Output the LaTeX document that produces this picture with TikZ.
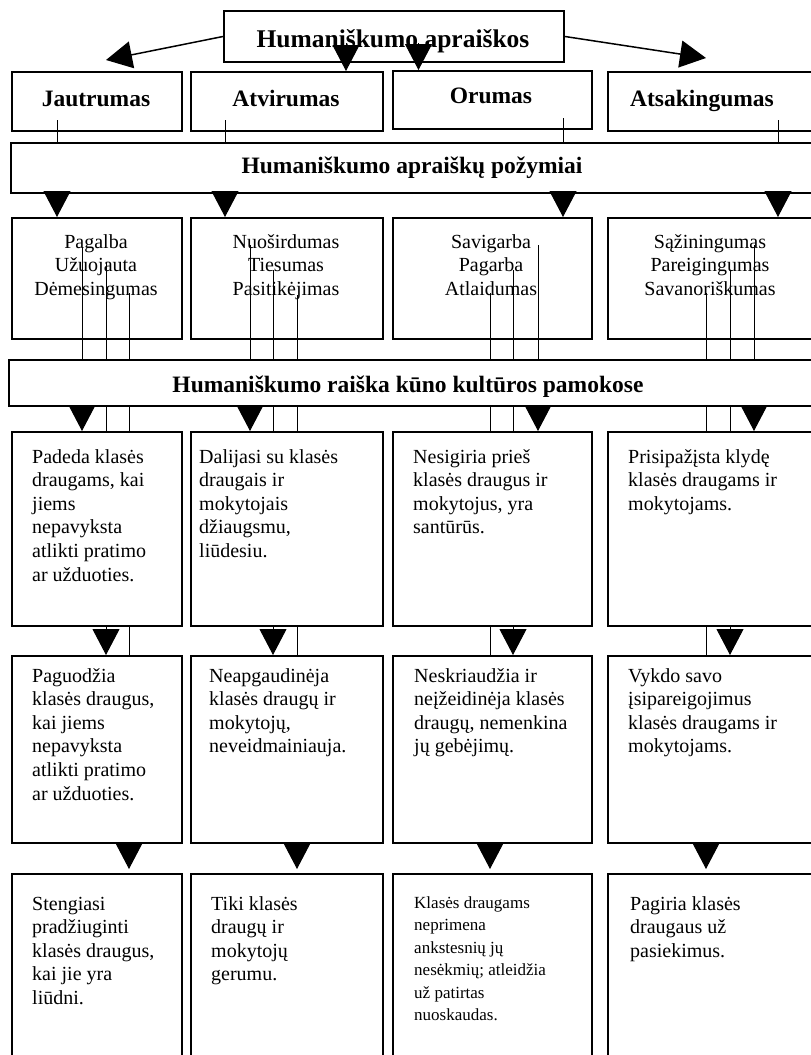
\documentclass[tikz,border=0pt]{standalone}
\usepackage{fontspec}
\setmainfont{Liberation Serif}
\usetikzlibrary{arrows.meta}

% multi-line text blocks whose baseline is the first line's baseline
\newcommand\leftlines[1]{\begin{minipage}[t]{185pt}\raggedright #1\end{minipage}}
\newcommand\midlines[1]{\begin{minipage}[t]{180pt}\centering #1\end{minipage}}

\tikzset{
  frame/.style={draw, line width=2pt, fill=white, inner sep=0pt, anchor=north west},
  head/.style={font=\fontsize{23.5}{28}\selectfont\bfseries, inner sep=0pt, anchor=base},
  body/.style={font=\fontsize{20}{23.6}\selectfont, inner sep=0pt, anchor=base west},
  bodymid/.style={font=\fontsize{20}{23.6}\selectfont, inner sep=0pt, anchor=base},
  small/.style={font=\fontsize{17}{22.5}\selectfont, inner sep=0pt, anchor=base west},
  conn/.style={line width=1pt},
  tip/.style={line width=1pt, -{Triangle[length=26pt,width=27pt]}},
  slant/.style={line width=1.5pt, -{Triangle[length=26pt,width=27pt]}}
}

\begin{document}
\begin{tikzpicture}[x=1pt,y=-1pt]
\useasboundingbox[fill=white] (0,0) rectangle (811,1055);

% ---- title ----
\node[frame, minimum width=340pt, minimum height=51pt] (title) at (223,10) {};
\node[head, font=\fontsize{25.5}{30}\selectfont\bfseries] (titletxt) at (393,47) {Humaniškumo apraiškos};

% ---- the four manifestations ----
\node[frame, minimum width=170pt, minimum height=59pt] (jaut) at (11,71) {};
\node[frame, minimum width=192pt, minimum height=59pt] (atv)  at (190,71) {};
\node[frame, minimum width=199pt, minimum height=58pt] (orum) at (392,70) {};
\node[frame, minimum width=230pt, minimum height=59pt] (ats)  at (607,71) {};
\node[head] (jauttxt) at (96,106) {Jautrumas};
\node[head] (atvtxt)  at (286,106) {Atvirumas};
\node[head] (orumtxt) at (491,103) {Orumas};
\node[head] (atstxt)  at (702,106) {Atsakingumas};

% ---- band: features ----
\node[frame, minimum width=830pt, minimum height=50pt] (band1) at (10,142) {};
\node[head] (band1txt) at (412,173) {Humaniškumo apraiškų požymiai};

% ---- features boxes ----
\node[frame, minimum width=170pt, minimum height=121pt] (r3a) at (11,217) {};
\node[frame, minimum width=192pt, minimum height=121pt] (r3b) at (190,217) {};
\node[frame, minimum width=199pt, minimum height=121pt] (r3c) at (392,217) {};
\node[frame, minimum width=230pt, minimum height=121pt] (r3d) at (607,217) {};
\node[bodymid] (r3atxt) at (96,248)  {\midlines{Pagalba\\Užuojauta\\Dėmesingumas}};
\node[bodymid] (r3btxt) at (286,248) {\midlines{Nuoširdumas\\Tiesumas\\Pasitikėjimas}};
\node[bodymid] (r3ctxt) at (491,248) {\midlines{Savigarba\\Pagarba\\Atlaidumas}};
\node[bodymid] (r3dtxt) at (710,248) {\midlines{Sąžiningumas\\Pareigingumas\\Savanoriškumas}};

% ---- band: expression in lessons ----
\node[frame, minimum width=832pt, minimum height=46pt] (band2) at (8,359) {};
\node[head] (band2txt) at (408,392) {Humaniškumo raiška kūno kultūros pamokose};

% ---- row 4 ----
\node[frame, minimum width=170pt, minimum height=194pt] (r4a) at (11,431) {};
\node[frame, minimum width=192pt, minimum height=194pt] (r4b) at (190,431) {};
\node[frame, minimum width=199pt, minimum height=194pt] (r4c) at (392,431) {};
\node[frame, minimum width=230pt, minimum height=194pt] (r4d) at (607,431) {};
\node[body] (r4atxt) at (32,463)  {\leftlines{Padeda klasės\\draugams, kai\\jiems\\nepavyksta\\atlikti pratimo\\ar užduoties.}};
\node[body] (r4btxt) at (199,463) {\leftlines{Dalijasi su klasės\\draugais ir\\mokytojais\\džiaugsmu,\\liūdesiu.}};
\node[body] (r4ctxt) at (413,463) {\leftlines{Nesigiria prieš\\klasės draugus ir\\mokytojus, yra\\santūrūs.}};
\node[body] (r4dtxt) at (628,463) {\leftlines{Prisipažįsta klydę\\klasės draugams ir\\mokytojams.}};

% ---- row 5 ----
\node[frame, minimum width=170pt, minimum height=187pt] (r5a) at (11,655) {};
\node[frame, minimum width=192pt, minimum height=187pt] (r5b) at (190,655) {};
\node[frame, minimum width=199pt, minimum height=187pt] (r5c) at (392,655) {};
\node[frame, minimum width=230pt, minimum height=187pt] (r5d) at (607,655) {};
\node[body] (r5atxt) at (32,682)  {\leftlines{Paguodžia\\klasės draugus,\\kai jiems\\nepavyksta\\atlikti pratimo\\ar užduoties.}};
\node[body] (r5btxt) at (209,682) {\leftlines{Neapgaudinėja\\klasės draugų ir\\mokytojų,\\neveidmainiauja.}};
\node[body] (r5ctxt) at (414,682) {\leftlines{Neskriaudžia ir\\neįžeidinėja klasės\\draugų, nemenkina\\jų gebėjimų.}};
\node[body] (r5dtxt) at (628,682) {\leftlines{Vykdo savo\\įsipareigojimus\\klasės draugams ir\\mokytojams.}};

% ---- row 6 (runs past the lower edge) ----
\node[frame, minimum width=170pt, minimum height=220pt] (r6a) at (11,873) {};
\node[frame, minimum width=192pt, minimum height=220pt] (r6b) at (190,873) {};
\node[frame, minimum width=199pt, minimum height=220pt] (r6c) at (392,873) {};
\node[frame, minimum width=230pt, minimum height=220pt] (r6d) at (607,873) {};
\node[body]  (r6atxt) at (32,910)  {\leftlines{Stengiasi\\pradžiuginti\\klasės draugus,\\kai jie yra\\liūdni.}};
\node[body]  (r6btxt) at (211,910) {\leftlines{Tiki klasės\\draugų ir\\mokytojų\\gerumu.}};
\node[small] (r6ctxt) at (414,908) {\leftlines{Klasės draugams\\neprimena\\ankstesnių jų\\nesėkmių; atleidžia\\už patirtas\\nuoskaudas.}};
\node[body]  (r6dtxt) at (630,910) {\leftlines{Pagiria klasės\\draugaus už\\pasiekimus.}};

% ---- connectors from the title ----
\coordinate (e1) at (106,60);
\coordinate (e2) at (706,58);
\coordinate (v1) at (346,43);
\coordinate (v2) at (418.5,43);
\draw[slant] (title.west) -- (e1);
\draw[slant] (title.east) -- (e2);
\draw[tip] (v1) -- (v1 |- atv.north);
\draw[tip] (v2) -- (v2 |- orum.north);

% ---- manifestations -> features ----
\coordinate (t1) at (57,120);
\coordinate (t2) at (225,120);
\coordinate (t3) at (563,118);
\coordinate (t4) at (778,120);
\foreach \t in {t1,t2,t3,t4} \draw[conn] (\t) -- (\t |- band1.north);
\draw[tip] (t1 |- band1.south) -- (t1 |- r3a.north);
\draw[tip] (t2 |- band1.south) -- (t2 |- r3b.north);
\draw[tip] (t3 |- band1.south) -- (t3 |- r3c.north);
\draw[tip] (t4 |- band1.south) -- (t4 |- r3d.north);

% ---- feature threads ----
\coordinate (s11) at (82,247);  \coordinate (s12) at (106,262); \coordinate (s13) at (129,293);
\coordinate (s21) at (250,245); \coordinate (s22) at (273,270); \coordinate (s23) at (297,295);
\coordinate (s31) at (490,293); \coordinate (s32) at (513,270); \coordinate (s33) at (538,245);
\coordinate (s41) at (706,293); \coordinate (s42) at (730,270); \coordinate (s43) at (754,245);
\foreach \s in {s11,s12,s13,s21,s22,s23,s31,s32,s33,s41,s42,s43}
  \draw[conn] (\s) -- (\s |- band2.north);

% band 2 -> row 4
\draw[tip]  (s11 |- band2.south) -- (s11 |- r4a.north);
\draw[conn] (s12 |- band2.south) -- (s12 |- r4a.north);
\draw[conn] (s13 |- band2.south) -- (s13 |- r4a.north);
\draw[tip]  (s21 |- band2.south) -- (s21 |- r4b.north);
\draw[conn] (s22 |- band2.south) -- (s22 |- r4b.north);
\draw[conn] (s23 |- band2.south) -- (s23 |- r4b.north);
\draw[conn] (s31 |- band2.south) -- (s31 |- r4c.north);
\draw[conn] (s32 |- band2.south) -- (s32 |- r4c.north);
\draw[tip]  (s33 |- band2.south) -- (s33 |- r4c.north);
\draw[conn] (s41 |- band2.south) -- (s41 |- r4d.north);
\draw[conn] (s42 |- band2.south) -- (s42 |- r4d.north);
\draw[tip]  (s43 |- band2.south) -- (s43 |- r4d.north);

% row 4 -> row 5
\draw[tip]  (s12 |- r4a.south) -- (s12 |- r5a.north);
\draw[conn] (s13 |- r4a.south) -- (s13 |- r5a.north);
\draw[tip]  (s22 |- r4b.south) -- (s22 |- r5b.north);
\draw[conn] (s23 |- r4b.south) -- (s23 |- r5b.north);
\draw[conn] (s31 |- r4c.south) -- (s31 |- r5c.north);
\draw[tip]  (s32 |- r4c.south) -- (s32 |- r5c.north);
\draw[conn] (s41 |- r4d.south) -- (s41 |- r5d.north);
\draw[tip]  (s42 |- r4d.south) -- (s42 |- r5d.north);

% row 5 -> row 6 (tips stop just above the boxes)
\draw[tip, shorten >=4pt] (s13 |- r5a.south) -- (s13 |- r6a.north);
\draw[tip, shorten >=4pt] (s23 |- r5b.south) -- (s23 |- r6b.north);
\draw[tip, shorten >=4pt] (s31 |- r5c.south) -- (s31 |- r6c.north);
\draw[tip, shorten >=4pt] (s41 |- r5d.south) -- (s41 |- r6d.north);
\end{tikzpicture}
\end{document}
